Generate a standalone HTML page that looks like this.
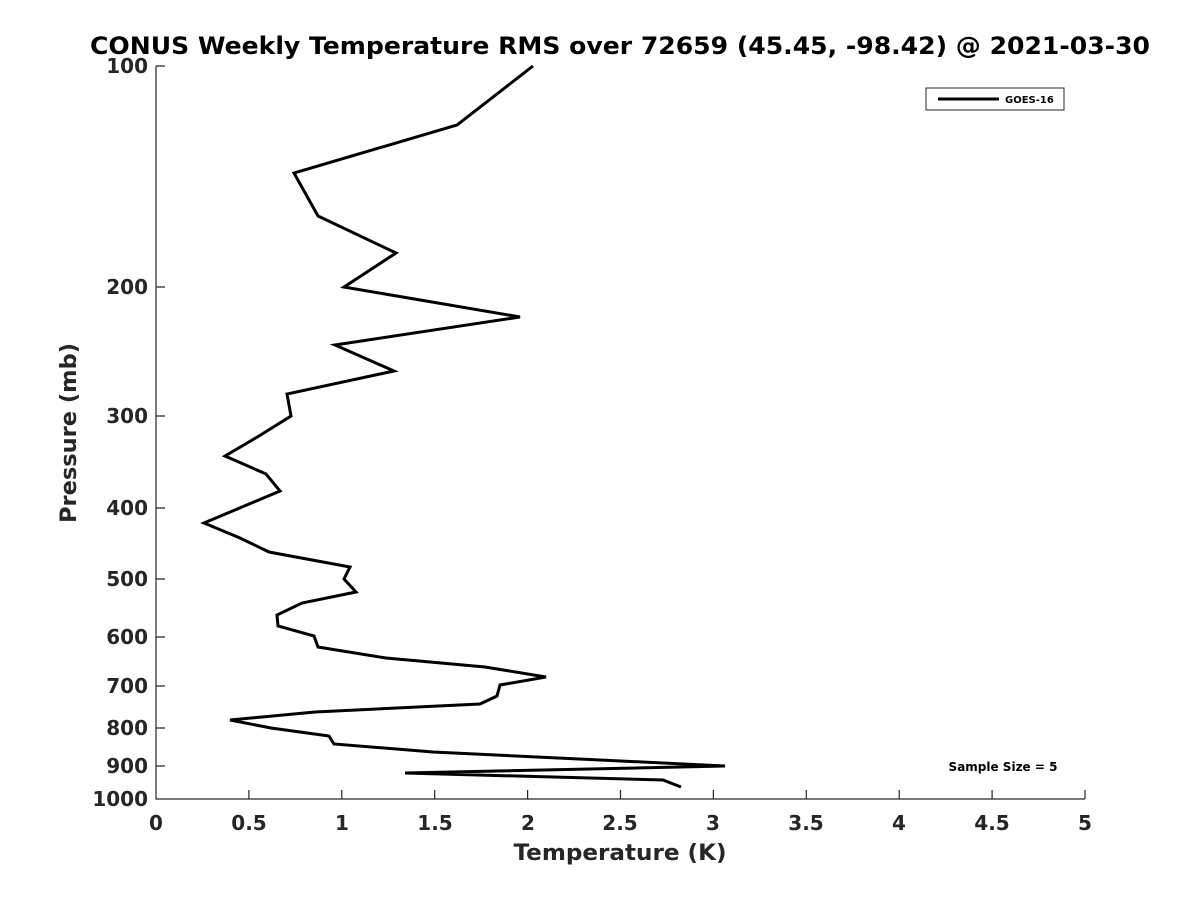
<!DOCTYPE html><html><head><style>body{margin:0;background:#fff}</style></head><body>
<svg width="1200" height="900" xmlns="http://www.w3.org/2000/svg" font-family="'DejaVu Sans','Liberation Sans',sans-serif" font-weight="bold">
<rect width="1200" height="900" fill="#fff"/>
<text x="620" y="54" text-anchor="middle" font-size="24" textLength="1060" lengthAdjust="spacingAndGlyphs" fill="#000">CONUS Weekly Temperature RMS over 72659 (45.45, -98.42) @ 2021-03-30</text>
<g stroke="#262626" stroke-width="1.2" fill="none">
<path d="M156,66V799H1085"/>
<path d="M248.9,799v-9M341.8,799v-9M434.7,799v-9M527.6,799v-9M620.5,799v-9M713.4,799v-9M806.3,799v-9M899.2,799v-9M992.1,799v-9M1085,799v-9"/>
<path d="M156,66h9M156,287h9M156,416h9M156,508h9M156,579h9M156,637h9M156,686h9M156,728h9M156,766h9"/>
</g>
<g font-size="20" fill="#262626" text-anchor="middle">
<text x="156" y="830">0</text><text x="249" y="830">0.5</text><text x="342" y="830">1</text><text x="435" y="830">1.5</text><text x="528" y="830">2</text><text x="620" y="830">2.5</text><text x="713" y="830">3</text><text x="806" y="830">3.5</text><text x="899" y="830">4</text><text x="992" y="830">4.5</text><text x="1085" y="830">5</text>
</g>
<g font-size="20" fill="#262626" text-anchor="end">
<text x="148" y="73">100</text><text x="148" y="294">200</text><text x="148" y="423">300</text><text x="148" y="515">400</text><text x="148" y="586">500</text><text x="148" y="644">600</text><text x="148" y="693">700</text><text x="148" y="735">800</text><text x="148" y="773">900</text><text x="148" y="806">1000</text>
</g>
<text x="620" y="860" text-anchor="middle" font-size="22" textLength="213" lengthAdjust="spacingAndGlyphs" fill="#262626">Temperature (K)</text>
<text transform="translate(76,433) rotate(-90)" text-anchor="middle" font-size="22" textLength="180" lengthAdjust="spacingAndGlyphs" fill="#262626">Pressure (mb)</text>
<polyline fill="none" stroke="#000" stroke-width="3" stroke-linejoin="miter" points="533,66 457,125 294,173 318,216 396,253 344,287 520,317 335,345 394,371 287,394 291,416 259,436 225,456 266,474 280,491 204,523 240,538 269,552 350,567 344,579 356,592 302,603 277,615 278,626 314,636 318,647 386,658 485,667 546,677 500,685 497,696 480,704 315,712 230,720 271,728 329,736 334,744 433,752 600,760 725,766 405,773 663,780 681,787"/>
<rect x="926" y="88" width="138" height="22" fill="#fff" stroke="#262626" stroke-width="1"/>
<line x1="938" y1="99" x2="999" y2="99" stroke="#000" stroke-width="3"/>
<text x="1005" y="103" font-size="10" fill="#000">GOES-16</text>
<text x="1003" y="771" text-anchor="middle" font-size="12" fill="#000">Sample Size = 5</text>
</svg>
</body></html>
